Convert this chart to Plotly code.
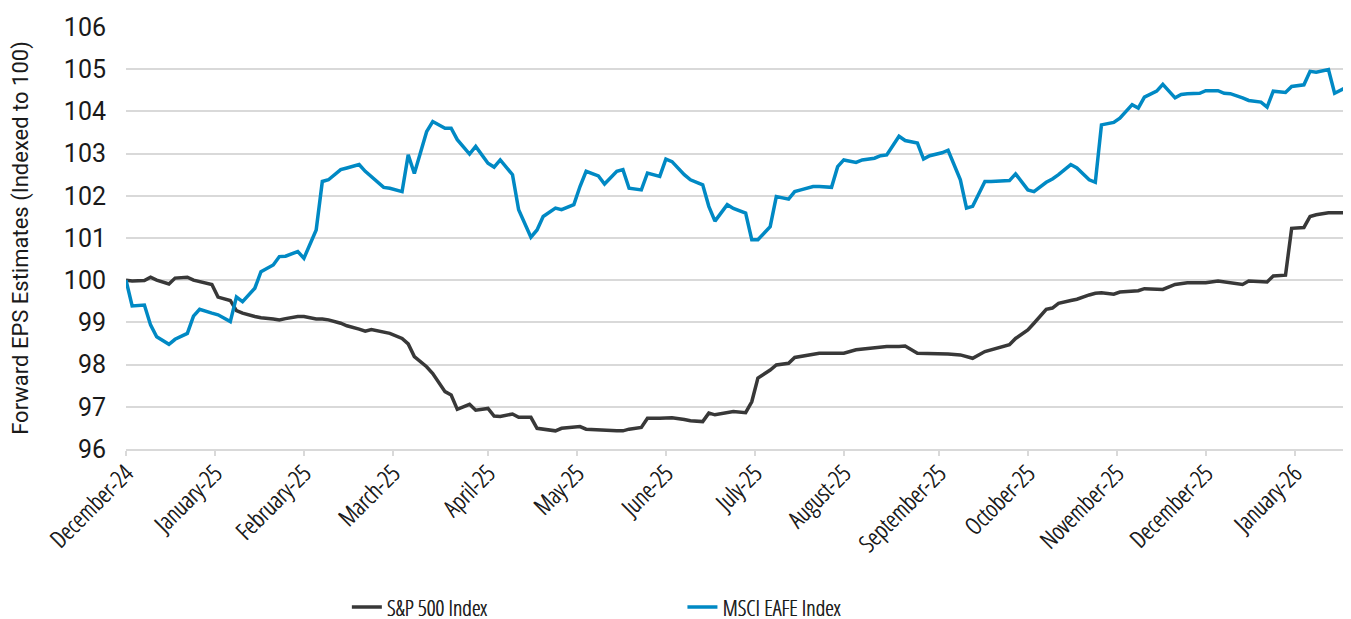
import pandas as pd
import plotly.graph_objects as go

# Business-day categories (every second trading day from the index base date)
all_days = pd.bdate_range("2024-12-31", periods=287)
dates = all_days[::2]

sp500 = [
    100.00, 99.98, 99.99, 100.07, 100.00, 99.91, 100.05, 100.07, 100.00, 99.96,
    99.90, 99.60, 99.52, 99.28, 99.22, 99.14, 99.11, 99.08, 99.06, 99.09,
    99.14, 99.14, 99.08, 99.08, 99.06, 98.98, 98.92, 98.84, 98.79, 98.83,
    98.76, 98.74, 98.62, 98.49, 98.19, 97.95, 97.79, 97.36, 97.28, 96.94,
    97.06, 96.92, 96.96, 96.78, 96.77, 96.83, 96.75, 96.75, 96.49, 96.47,
    96.43, 96.49, 96.53, 96.53, 96.47, 96.45, 96.43, 96.43, 96.43, 96.47,
    96.51, 96.73, 96.73, 96.73, 96.74, 96.70, 96.67, 96.65, 96.85, 96.81,
    96.86, 96.89, 96.86, 97.12, 97.68, 97.87, 97.99, 98.03, 98.17, 98.19,
    98.25, 98.27, 98.27, 98.27, 98.27, 98.35, 98.37, 98.41, 98.41, 98.43,
    98.43, 98.44, 98.27, 98.27, 98.27, 98.27, 98.25, 98.23, 98.19, 98.15,
    98.31, 98.35, 98.41, 98.47, 98.62, 98.82, 98.98, 99.31, 99.34, 99.45,
    99.52, 99.55, 99.65, 99.69, 99.70, 99.67, 99.72, 99.75, 99.75, 99.80,
    99.79, 99.78, 99.90, 99.92, 99.94, 99.94, 99.94, 99.98, 99.96, 99.94,
    99.90, 99.98, 99.98, 99.96, 100.10, 100.12, 101.23, 101.25, 101.51, 101.55,
    101.60, 101.60, 101.60, 101.55,
]

eafe = [
    100.00, 99.39, 99.41, 98.94, 98.66, 98.48, 98.60, 98.74, 99.15, 99.31,
    99.22, 99.18, 99.02, 99.60, 99.49, 99.81, 100.20, 100.36, 100.56, 100.57,
    100.68, 100.52, 101.19, 102.34, 102.38, 102.62, 102.66, 102.74, 102.58, 102.46,
    102.20, 102.18, 102.10, 102.97, 102.53, 103.52, 103.76, 103.60, 103.60, 103.33,
    102.99, 103.17, 102.77, 102.68, 102.85, 102.50, 101.67, 101.02, 101.19, 101.51,
    101.71, 101.67, 101.79, 102.22, 102.58, 102.47, 102.28, 102.58, 102.62, 102.18,
    102.14, 102.54, 102.46, 102.87, 102.81, 102.50, 102.38, 102.26, 101.75, 101.40,
    101.79, 101.70, 101.59, 100.96, 100.96, 101.27, 101.98, 101.92, 102.10, 102.14,
    102.22, 102.22, 102.20, 102.69, 102.85, 102.79, 102.85, 102.89, 102.95, 102.97,
    103.41, 103.31, 103.25, 102.87, 102.95, 103.02, 103.08, 102.38, 101.71, 101.75,
    102.34, 102.34, 102.34, 102.36, 102.52, 102.14, 102.10, 102.32, 102.40, 102.50,
    102.74, 102.66, 102.38, 102.32, 103.68, 103.74, 103.84, 104.16, 104.08, 104.34,
    104.48, 104.64, 104.32, 104.40, 104.42, 104.43, 104.49, 104.49, 104.43, 104.42,
    104.32, 104.26, 104.22, 104.10, 104.48, 104.45, 104.59, 104.63, 104.95, 104.93,
    104.99, 104.43, 104.58, 104.28,
]

tick_labels = [
    "December-24", "January-25", "February-25", "March-25", "April-25", "May-25",
    "June-25", "July-25", "August-25", "September-25", "October-25", "November-25",
    "December-25", "January-26",
]
tick_dates = all_days[::21][: len(tick_labels)]

COND = "Open Sans Condensed Light, Roboto, sans-serif"
REG = "Roboto, Arial, sans-serif"
TXT = "#1a1a1a"
SHADOW = "0.5px 0 0 #1a1a1a"

fig = go.Figure()
fig.add_trace(go.Scatter(
    x=dates, y=sp500, mode="lines", name="S&P 500 Index",
    line=dict(color="#383838", width=3.5), legend="legend",
))
fig.add_trace(go.Scatter(
    x=dates, y=eafe, mode="lines", name="MSCI EAFE Index",
    line=dict(color="#0089C4", width=3.5), legend="legend2",
))

legend_style = dict(
    orientation="h", xanchor="left", y=-0.375, yanchor="middle",
    font=dict(family=COND, size=22, color=TXT, shadow=SHADOW), itemwidth=30,
    bgcolor="rgba(0,0,0,0)",
)

fig.update_layout(
    width=1351, height=619,
    margin=dict(l=118, r=6, t=19, b=178, autoexpand=False),
    paper_bgcolor="white", plot_bgcolor="white",
    font=dict(family=REG, size=18, color=TXT),
    showlegend=True,
    legend=dict(x=0.18, **legend_style),
    legend2=dict(x=0.4535, **legend_style),
)
fig.update_xaxes(
    type="date", automargin=False,
    range=[dates[0], dates[-1]],
    tickvals=tick_dates, ticktext=tick_labels,
    tickangle=-45, tickfont=dict(family=COND, size=24, color=TXT, shadow=SHADOW),
    showgrid=False, showline=True, linecolor="#d9d9d9", linewidth=2,
    ticks="outside", ticklen=5, tickcolor="#d9d9d9", tickwidth=2,
    ticklabelstandoff=-6,
    zeroline=False,
)
fig.update_yaxes(
    range=[96, 106], dtick=1, tick0=96, automargin=False,
    showgrid=True, gridcolor="#d9d9d9", gridwidth=2,
    showline=False, zeroline=False,
    ticks="outside", ticklen=14, tickcolor="rgba(0,0,0,0)",
    tickfont=dict(family=REG, size=25, color=TXT),
    title=dict(text="Forward EPS Estimates (Indexed to 100)",
               font=dict(family=REG, size=22, color=TXT), standoff=30),
)

fig.write_html("out.html")
